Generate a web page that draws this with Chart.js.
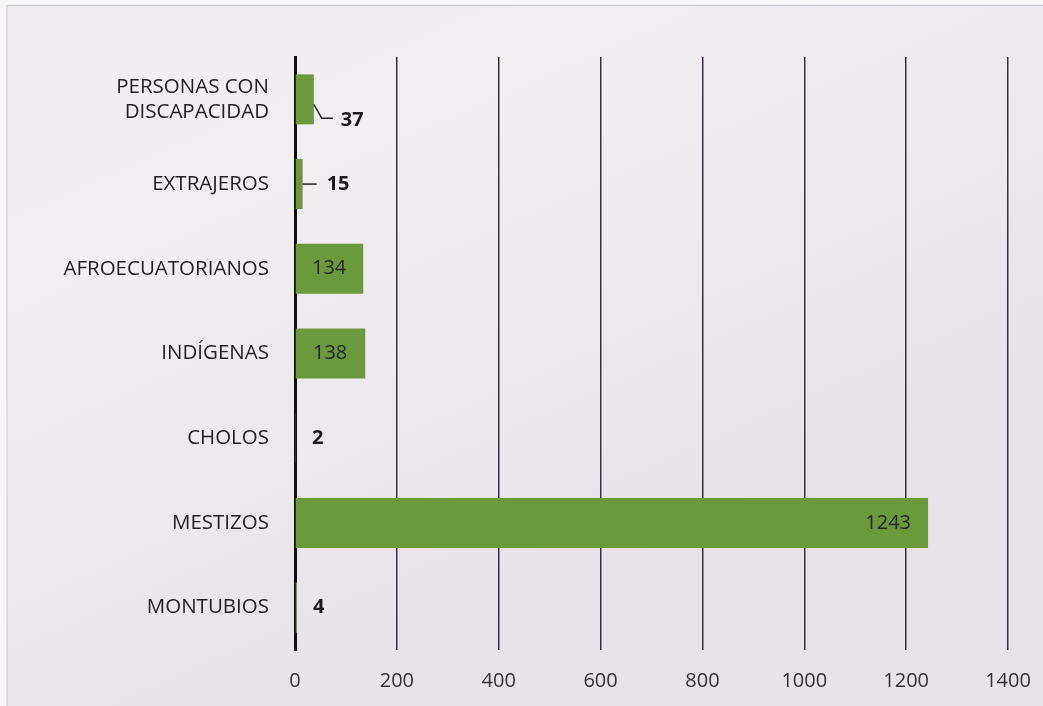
<!DOCTYPE html>
<html>
<head>
<meta charset="utf-8">
<script src="https://cdn.jsdelivr.net/npm/chart.js@4/dist/chart.umd.min.js"></script>
<style>
html,body{margin:0;padding:0;background:#f5f4f6;}
#wrap{width:1043px;height:706px;position:relative;}
</style>
</head>
<body>
<div id="wrap"><canvas id="c" width="1043" height="706"></canvas></div>
<script>
const categories = [["PERSONAS CON","DISCAPACIDAD"], "EXTRAJEROS", "AFROECUATORIANOS", "INDÍGENAS", "CHOLOS", "MESTIZOS", "MONTUBIOS"];
const values = [37, 15, 134, 138, 2, 1243, 4];
const xTicks = [0, 200, 400, 600, 800, 1000, 1200, 1400];

const FONT = "'Open Sans', 'DejaVu Sans', sans-serif";

const bgPlugin = {
  id: 'bg',
  beforeDraw(chart) {
    const ctx = chart.ctx;
    const W = chart.width, H = chart.height;
    ctx.save();
    ctx.fillStyle = '#f7f7f7';
    ctx.fillRect(0, 0, W, H);
    const g = ctx.createLinearGradient(0, 0, W * 0.3, H);
    g.addColorStop(0, '#f0edf1');
    g.addColorStop(0.35, '#f1eff2');
    g.addColorStop(1, '#e8e2ea');
    ctx.fillStyle = g;
    ctx.fillRect(7, 5, W - 7, H - 5);
    ctx.strokeStyle = '#c9c6cb';
    ctx.lineWidth = 1;
    ctx.beginPath();
    ctx.moveTo(7, H); ctx.lineTo(7, 5.5); ctx.lineTo(W, 5.5);
    ctx.stroke();
    ctx.restore();
  }
};

const labelPlugin = {
  id: 'vals',
  afterDatasetsDraw(chart) {
    const ctx = chart.ctx;
    const meta = chart.getDatasetMeta(0);
    const xs = chart.scales.x;
    ctx.save();
    meta.data.forEach((bar, i) => {
      const v = values[i];
      const x0 = xs.getPixelForValue(0);
      const xe = bar.x;
      const y = bar.y;
      ctx.textBaseline = 'middle';
      if (v >= 100) {
        ctx.font = "20px " + FONT;
        ctx.fillStyle = '#262626';
        if (v > 500) {
          ctx.textAlign = 'right';
          ctx.fillText(String(v), xe - 17, y);
        } else {
          ctx.textAlign = 'center';
          ctx.fillText(String(v), (x0 + xe) / 2, y);
        }
      } else if (v >= 30) {
        ctx.strokeStyle = '#222';
        ctx.lineWidth = 1.5;
        ctx.beginPath();
        ctx.moveTo(xe, y + 5);
        ctx.lineTo(xe + 8, y + 19);
        ctx.lineTo(xe + 19, y + 19);
        ctx.stroke();
        ctx.font = "bold 20px " + FONT;
        ctx.fillStyle = '#1a1a1a';
        ctx.textAlign = 'left';
        ctx.fillText(String(v), xe + 27, y + 21);
      } else if (v >= 10) {
        ctx.strokeStyle = '#222';
        ctx.lineWidth = 1.5;
        ctx.beginPath();
        ctx.moveTo(xe, y);
        ctx.lineTo(xe + 14, y);
        ctx.stroke();
        ctx.font = "bold 20px " + FONT;
        ctx.fillStyle = '#1a1a1a';
        ctx.textAlign = 'left';
        ctx.fillText(String(v), xe + 24, y);
      } else {
        ctx.font = "bold 20px " + FONT;
        ctx.fillStyle = '#1a1a1a';
        ctx.textAlign = 'left';
        ctx.fillText(String(v), xe + 16, y);
      }
    });
    ctx.restore();
  }
};

new Chart(document.getElementById('c'), {
  type: 'bar',
  data: {
    labels: categories,
    datasets: [{
      data: values,
      backgroundColor: '#6a9a3c',
      borderWidth: 0,
      barPercentage: 0.59,
      categoryPercentage: 1.0
    }]
  },
  options: {
    indexAxis: 'y',
    responsive: false,
    animation: false,
    devicePixelRatio: 1,
    layout: { padding: { top: 57, right: 35, bottom: 0, left: 0 } },
    plugins: { legend: { display: false }, tooltip: { enabled: false } },
    scales: {
      x: {
        min: 0, max: 1400,
        afterBuildTicks(scale) { scale.ticks = xTicks.map(v => ({ value: v })); },
        afterFit(scale) { scale.height = 56; scale.paddingRight = 0; scale.paddingLeft = 0; },
        border: { display: false },
        grid: {
          drawTicks: false,
          lineWidth: 1.5,
          color: ctx => ctx.index === 0 ? 'rgba(0,0,0,0)' : '#3d2c45'
        },
        ticks: {
          padding: 19,
          color: '#333333',
          font: { family: FONT, size: 20 },
          callback: (v) => String(v)
        }
      },
      y: {
        afterFit(scale) { scale.width = 295; },
        border: { display: true, color: '#111111', width: 3 },
        grid: { display: false, drawTicks: false },
        ticks: {
          padding: 26,
          color: '#222222',
          font: { family: FONT, size: 20.5 }
        }
      }
    }
  },
  plugins: [bgPlugin, labelPlugin]
});
</script>
</body>
</html>
